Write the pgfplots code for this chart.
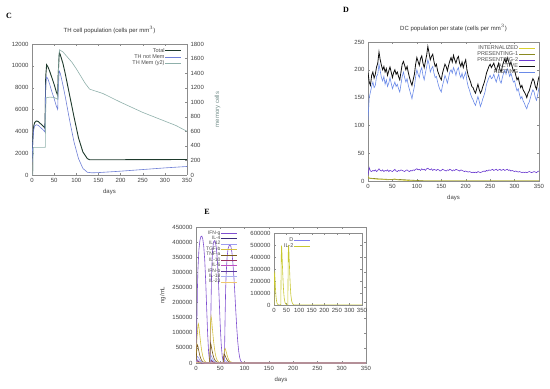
\documentclass[border=0pt]{standalone}
\usepackage{fontspec}
\setmainfont{Liberation Sans}
\newfontfamily\serifb{Liberation Serif}
\usepackage{pgfplots}
\pgfplotsset{compat=1.18}
\usepackage{pgfplotstable}

\definecolor{cTot}{HTML}{1E3A2C}
\definecolor{cNot}{HTML}{6F7FD6}
\definecolor{cMem}{HTML}{8FB0AB}
\definecolor{dInt}{HTML}{D8D030}
\definecolor{dP1}{HTML}{8A8A20}
\definecolor{dP2}{HTML}{6A3AD0}
\definecolor{dAct}{HTML}{101010}
\definecolor{dRes}{HTML}{6A8AE8}
\definecolor{eIFNg}{HTML}{7F4FD0}
\definecolor{eIL4}{HTML}{3B2B7B}
\definecolor{eIL12}{HTML}{9C9CF0}
\definecolor{eTGF}{HTML}{D4C040}
\definecolor{eTNF}{HTML}{7A5A1A}
\definecolor{eIL10}{HTML}{9A3060}
\definecolor{eIL6}{HTML}{C050C0}
\definecolor{eIFNb}{HTML}{5A3A9A}
\definecolor{eIL18}{HTML}{A8B0F0}
\definecolor{eIL23}{HTML}{F0C870}
\definecolor{eD}{HTML}{8080F0}
\definecolor{eIL2}{HTML}{C8C830}

\pgfplotstableread{
day act res pres
0 195 110 10
2.5 178 150 24
5 172 160 18
7.5 190 170 17
10 196 178 19
12.5 185 168 18
15 192 172 20
17.5 205 188 17
20 212 192 19
22.5 232 210 22
25 218 198 19
27.5 208 186 18
30 200 180 20
32.5 206 188 17
35 196 174 19
37.5 202 182 18
40 190 170 20
42.5 198 176 17
45 205 186 19
47.5 196 176 18
50 186 166 17
52.5 195 172 19
55 200 178 21
57.5 192 170 18
60 196 174 17
62.5 188 166 19
65 182 160 18
67.5 196 174 20
70 210 188 19
72.5 215 196 18
75 208 186 17
77.5 200 178 19
80 206 184 20
82.5 195 172 18
85 186 164 17
87.5 178 156 19
90 172 148 18
92.5 182 160 20
95 192 170 19
97.5 210 188 21
100 222 200 22
102.5 215 192 20
105 208 186 21
107.5 220 198 19
110 225 204 22
112.5 212 190 20
115 204 182 21
117.5 215 194 19
120 226 205 22
122.5 242 218 23
125 230 210 21
127.5 218 196 20
130 224 202 22
132.5 228 206 19
135 215 194 21
137.5 206 186 20
140 210 188 19
142.5 198 178 21
145 192 170 20
147.5 186 164 18
150 182 160 19
152.5 194 172 21
155 202 180 20
157.5 210 190 19
160 206 184 18
162.5 198 176 20
165 208 186 19
167.5 216 196 21
170 222 200 20
172.5 214 194 18
175 226 204 20
177.5 218 198 19
180 212 190 21
182.5 220 200 20
185 224 204 19
187.5 212 192 18
190 206 186 20
192.5 214 194 19
195 204 184 18
197.5 212 190 17
200 218 196 18
202.5 200 180 17
205 190 170 16
207.5 184 164 17
210 178 156 16
212.5 170 150 15
215 168 146 16
217.5 162 140 15
220 158 136 16
222.5 166 144 15
225 174 152 17
227.5 165 144 16
230 158 134 15
232.5 162 140 16
235 170 148 17
237.5 176 154 18
240 184 162 17
242.5 194 174 19
245 200 180 18
247.5 206 186 20
250 210 190 19
252.5 204 184 20
255 208 186 21
257.5 212 192 19
260 204 184 20
262.5 198 178 21
265 206 186 19
267.5 212 192 20
270 200 180 21
272.5 196 176 19
275 206 186 20
277.5 214 194 21
280 220 200 19
282.5 212 192 20
285 222 202 21
287.5 216 196 19
290 208 188 20
292.5 214 194 18
295 206 186 19
297.5 198 178 18
300 200 180 17
302.5 190 170 18
305 182 162 17
307.5 186 166 16
310 176 156 17
312.5 168 148 16
315 172 152 15
317.5 164 144 16
320 160 140 15
322.5 156 134 16
325 150 130 15
327.5 158 138 16
330 162 142 17
332.5 170 150 16
335 178 158 15
337.5 184 164 16
340 180 160 17
342.5 170 150 16
345 165 145 15
347.5 178 156 17
350 188 168 18
}\dcdata

\pgfplotsset{
  gp/.style={
    scale only axis,
    axis line style={black!45},
    tick style={black!45},
    tick align=inside,
    major tick length=2pt,
    ticklabel style={font=\fontsize{6}{7}\selectfont, text=black!75},
    label style={font=\fontsize{6}{7}\selectfont, text=black!75},
    title style={font=\fontsize{6}{7}\selectfont, text=black!80, yshift=1pt},
    /pgf/number format/fixed,
    /pgf/number format/assume math mode=true,
    scaled ticks=false,
    /pgf/number format/1000 sep={},
    xmin=0, xmax=350, xtick={0,50,...,350},
    every axis plot/.append style={line width=0.6pt, mark=none},
    legend cell align=right,
    legend plot pos=right,
    legend image code/.code={\draw[##1, line width=0.7pt] (0pt,0pt) -- (16pt,0pt);},
  },
  lg/.style={legend style={draw=none, fill=none, font=\fontsize{5.5}{6}\selectfont,
    text=black!70, inner sep=0pt, row sep=-0.5pt, nodes={inner sep=0.6pt}}},
}

\begin{document}
\begin{tikzpicture}[x=1pt,y=1pt]
\useasboundingbox (0,0) rectangle (550,389);
\node[font=\serifb\bfseries\fontsize{8}{8}\selectfont] at (9,373) {C};
\node[font=\serifb\bfseries\fontsize{8}{8}\selectfont] at (346,379) {D};
\node[font=\serifb\bfseries\fontsize{8}{8}\selectfont] at (207,177) {E};

% ---------- Panel C ----------
\begin{axis}[gp, at={(32pt,214pt)}, anchor=south west, width=155pt, height=131pt,
  axis y line*=left, ymin=0, ymax=12000, ytick={0,2000,...,12000},
  xlabel={days}, title={TH cell population (cells per mm$^3$)}]
\addplot[cTot, line width=0.9pt] coordinates {(0,1500) (2,3500) (4,4500) (6,4800) (10,4950) (14,4900) (18,4750) (22,4600) (26,4450) (29,4300) (30,6000) (31,9000) (33,10100) (36,9900) (40,9500) (45,8900) (50,8300) (55,7600) (58,7300) (59,9000) (61,10800) (62,11200) (64,11000) (70,10200) (75,9300) (85,7300) (95,5300) (105,3400) (115,2100) (125,1500) (130,1400) (140,1400) (200,1400) (350,1420)};
\addplot[cNot] coordinates {(0,1200) (2,3200) (4,4200) (6,4500) (10,4600) (14,4550) (18,4400) (22,4250) (26,4100) (29,3950) (30,5500) (31,8200) (33,9000) (36,8800) (40,8300) (45,7600) (50,7000) (55,6300) (58,6000) (59,7500) (61,9200) (62,9500) (64,9300) (70,8200) (75,7200) (85,5000) (95,3000) (105,1500) (115,600) (125,250) (135,200) (150,220) (200,350) (250,500) (300,650) (350,780)};
\end{axis}
\begin{axis}[gp, at={(32pt,214pt)}, anchor=south west, width=155pt, height=131pt,
  axis y line*=right, axis x line=none, ymin=0, ymax=1800, ytick={0,200,...,1800},
  ylabel={memory cells}, ylabel style={text=cMem!80!black}, ylabel shift=4pt,
  lg, legend style={at={(0.968,0.975)}, anchor=north east}]
\addlegendimage{cTot, line width=0.9pt}\addlegendentry{Total}
\addlegendimage{cNot}\addlegendentry{TH not Mem}
\addplot[cMem] coordinates {(0,0) (2,0) (3,380) (29,380) (30,380) (31,900) (32,1060) (40,1070) (50,1065) (58,1040) (59,1300) (61,1650) (62,1720) (70,1690) (80,1620) (90,1550) (100,1460) (110,1360) (120,1260) (130,1180) (140,1160) (160,1120) (180,1060) (200,1000) (225,930) (250,860) (275,800) (300,740) (325,680) (350,600)};
\addlegendentry{TH Mem (y2)}
\end{axis}

% ---------- Panel D ----------
\begin{axis}[gp, at={(368pt,208pt)}, anchor=south west, width=171pt, height=139pt,
  ymin=0, ymax=250, ytick={0,50,...,250}, xlabel={days},
  title={DC population per state (cells per mm$^3$)},
  lg, legend style={at={(0.98,0.98)}, anchor=north east}]
\addplot[dInt] coordinates {(0,8) (2,5) (10,4) (20,3) (30,3) (40,2) (50,3) (55,4) (60,2) (80,1) (100,0) (350,0)};
\addlegendentry{INTERNALIZED}
\addplot[dP1] coordinates {(0,6) (5,5) (20,4) (40,3) (60,3) (80,2) (120,0) (350,0)};
\addlegendentry{PRESENTING-1}
\addplot[dP2] table[x=day, y=pres] {\dcdata};
\addlegendentry{PRESENTING-2}
\addplot[dAct, line width=0.8pt] table[x=day, y=act] {\dcdata};
\addlegendentry{ACTIVE}
\addplot[dRes] table[x=day, y=res] {\dcdata};
\addlegendentry{RESTING}
\end{axis}

% ---------- Panel E ----------
\begin{axis}[gp, at={(196pt,26pt)}, anchor=south west, width=170pt, height=136pt,
  ymin=0, ymax=450000, ytick={0,50000,...,450000}, xlabel={days}, ylabel={ng/mL},
  lg, legend style={at={(0.247,0.978)}, anchor=north east, font=\fontsize{5}{5}\selectfont, row sep=-0.8pt}]
\addplot[eIFNg] coordinates {(0,0) (1,50000) (2,160000) (3,250000) (4,310000) (6,375000) (8,405000) (10,418000) (12,420000) (14,410000) (16,385000) (18,340000) (20,270000) (22,180000) (24,95000) (26,35000) (28,5000) (29,0) (30,80000) (31,200000) (32,290000) (34,370000) (36,400000) (38,405000) (40,400000) (42,380000) (44,340000) (46,280000) (48,200000) (50,120000) (52,60000) (54,22000) (56,5000) (57,0) (58,0) (59,60000) (60,160000) (61,240000) (62,290000) (64,350000) (66,378000) (68,388000) (70,390000) (72,385000) (74,365000) (76,330000) (78,285000) (80,230000) (82,170000) (84,115000) (86,70000) (88,38000) (90,18000) (92,7000) (95,2000) (100,0) (350,0)};
\addlegendentry{IFN-g}
\addplot[eIL4] coordinates {(0,0) (2,8000) (4,6000) (8,2000) (14,0) (29,0) (31,9000) (34,5000) (40,1000) (45,0) (350,0)};
\addlegendentry{IL-4}
\addplot[eIL12] coordinates {(0,0) (2,18000) (3,22000) (5,18000) (8,10000) (12,4000) (16,1000) (20,0) (28,0) (30,22000) (31,25000) (33,18000) (36,9000) (40,3000) (45,0) (56,0) (58,10000) (60,8000) (64,3000) (70,0) (350,0)};
\addlegendentry{IL-12}
\addplot[eTGF] coordinates {(0,0) (2,80000) (4,125000) (5,130000) (6,120000) (8,90000) (10,60000) (12,38000) (14,22000) (16,12000) (18,6000) (20,3000) (24,1000) (28,0) (29,50000) (30,140000) (31,155000) (32,145000) (34,110000) (36,75000) (38,48000) (40,28000) (42,15000) (44,8000) (46,4000) (50,1000) (56,0) (57,20000) (59,45000) (60,48000) (62,38000) (64,26000) (66,16000) (68,9000) (70,5000) (74,2000) (80,0) (350,0)};
\addlegendentry{TGF-b}
\addplot[eTNF] coordinates {(0,0) (2,55000) (3,60000) (4,55000) (6,38000) (8,24000) (10,14000) (12,8000) (15,3000) (20,0) (28,0) (29,40000) (30,65000) (31,60000) (33,42000) (35,27000) (37,16000) (40,7000) (45,1000) (50,0) (56,0) (57,20000) (58,30000) (59,28000) (61,20000) (63,13000) (66,6000) (70,2000) (75,0) (350,0)};
\addlegendentry{TNF-a}
\addplot[eIL10] coordinates {(0,0) (2,10000) (4,7000) (8,2000) (14,0) (29,0) (31,8000) (35,3000) (42,0) (350,0)};
\addlegendentry{IL-10}
\addplot[eIL6] coordinates {(0,0) (2,5000) (6,2000) (12,0) (350,0)};
\addlegendentry{IL-6}
\addplot[eIFNb] coordinates {(0,0) (2,4000) (6,1500) (12,0) (350,0)};
\addlegendentry{IFN-b}
\addplot[eIL18] coordinates {(0,0) (3,12000) (6,8000) (12,2000) (18,0) (29,0) (31,14000) (36,5000) (45,0) (350,0)};
\addlegendentry{IL-18}
\addplot[eIL23] coordinates {(0,0) (2,3000) (8,1000) (14,0) (350,0)};
\addlegendentry{IL-23}
\end{axis}

\begin{axis}[gp, at={(274pt,84pt)}, anchor=south west, width=88pt, height=72pt,
  ymin=0, ymax=600000, ytick={0,100000,...,600000}, xlabel={},
  axis background/.style={fill=white},
  lg, legend style={at={(0.42,0.94)}, anchor=north east}]
\addplot[eD] coordinates {(0,0) (350,0)};
\addlegendentry{D}
\addplot[eIL2] coordinates {(0,0) (1,150000) (2,260000) (3,270000) (4,220000) (6,130000) (8,70000) (10,35000) (12,15000) (15,5000) (20,0) (27,0) (28,200000) (29,420000) (30,495000) (31,470000) (33,360000) (35,250000) (37,160000) (39,95000) (41,50000) (44,20000) (48,5000) (52,0) (55,0) (56,250000) (57,470000) (58,500000) (59,470000) (61,350000) (63,240000) (65,150000) (67,85000) (70,35000) (74,10000) (80,0) (350,0)};
\addlegendentry{IL-2}
\end{axis}
\end{tikzpicture}
\end{document}
